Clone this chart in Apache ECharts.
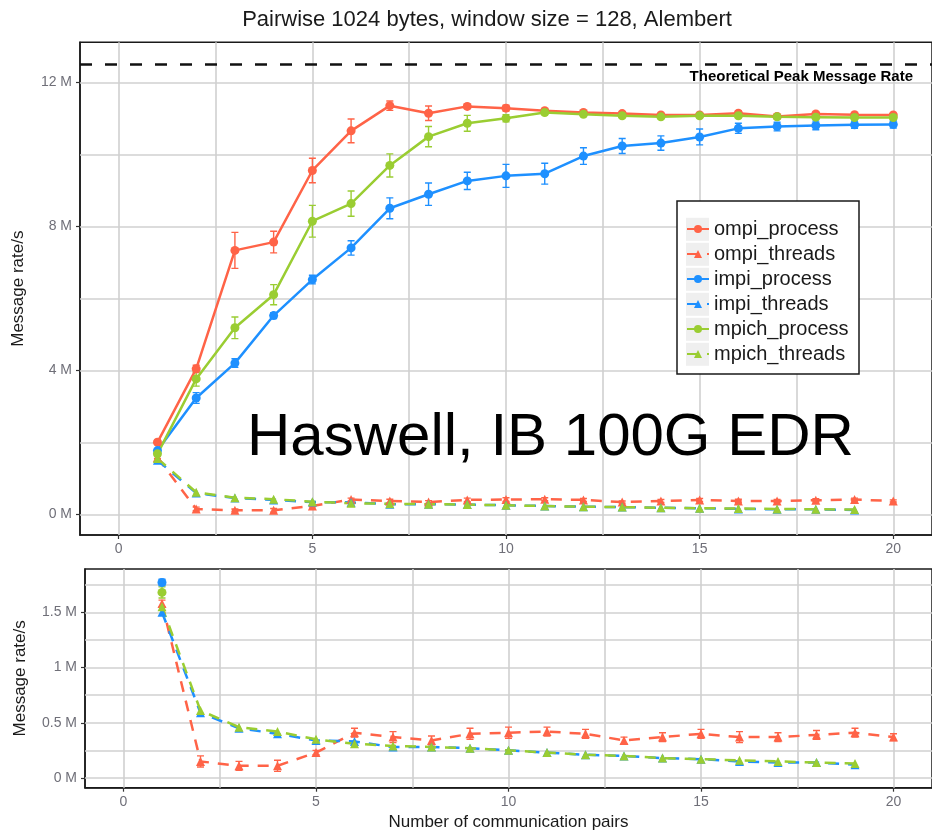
<!DOCTYPE html>
<html>
<head>
<meta charset="utf-8">
<title>Pairwise 1024 bytes, window size = 128, Alembert</title>
<script src="https://cdn.jsdelivr.net/npm/echarts@6/dist/echarts.min.js"></script>
<style>
	html, body { margin: 0; padding: 0; background: #fff; }
	#main { width: 932px; height: 835px; }
</style>
</head>
<body>
<div id="main"></div>
<script>
	// number of communication pairs
	var pairs = [1, 2, 3, 4, 5, 6, 7, 8, 9, 10, 11, 12, 13, 14, 15, 16, 17, 18, 19, 20];

	// message rate, millions of messages / s
	var ompiProcess  = [2.00, 4.04, 7.33, 7.56, 9.55, 10.65, 11.35, 11.14, 11.33, 11.28, 11.21, 11.16, 11.13, 11.09, 11.09, 11.14, 11.05, 11.12, 11.10, 11.09];
	var ompiThreads  = [1.58, 0.15, 0.11, 0.11, 0.23, 0.41, 0.37, 0.34, 0.40, 0.41, 0.42, 0.40, 0.34, 0.37, 0.40, 0.37, 0.37, 0.39, 0.41, 0.37];
	var impiProcess  = [1.77, 3.23, 4.20, 5.52, 6.52, 7.40, 8.50, 8.89, 9.26, 9.40, 9.46, 9.95, 10.23, 10.31, 10.48, 10.72, 10.77, 10.80, 10.82, 10.83];
	var impiThreads  = [1.50, 0.59, 0.45, 0.40, 0.34, 0.33, 0.28, 0.28, 0.27, 0.25, 0.23, 0.21, 0.20, 0.18, 0.17, 0.15, 0.14, 0.14, 0.12];
	var mpichProcess = [1.68, 3.76, 5.18, 6.10, 8.14, 8.63, 9.69, 10.49, 10.86, 11.00, 11.16, 11.11, 11.07, 11.04, 11.07, 11.07, 11.04, 11.03, 11.02, 11.02];
	var mpichThreads = [1.55, 0.61, 0.46, 0.42, 0.35, 0.31, 0.29, 0.28, 0.27, 0.25, 0.23, 0.21, 0.20, 0.18, 0.17, 0.16, 0.15, 0.14, 0.13];

	// error bar half heights, same unit
	var ompiProcessErr  = [0.05, 0.10, 0.50, 0.30, 0.34, 0.33, 0.13, 0.20, 0.06, 0.08, 0.05, 0.05, 0.05, 0.04, 0.05, 0.06, 0.04, 0.05, 0.04, 0.04];
	var ompiThreadsErr  = [0.03, 0.05, 0.04, 0.05, 0.02, 0.04, 0.05, 0.04, 0.05, 0.05, 0.04, 0.04, 0.03, 0.04, 0.04, 0.05, 0.04, 0.04, 0.04, 0.03];
	var impiProcessErr  = [0.03, 0.15, 0.12, 0.08, 0.12, 0.20, 0.29, 0.31, 0.24, 0.32, 0.29, 0.23, 0.21, 0.20, 0.22, 0.14, 0.12, 0.12, 0.10, 0.10];
	var mpichProcessErr = [0.05, 0.20, 0.30, 0.28, 0.44, 0.35, 0.32, 0.28, 0.22, 0.10, 0.06, 0.05, 0.05, 0.05, 0.05, 0.05, 0.05, 0.05, 0.04, 0.04];

	var peakRate = 12.5;

	// ticks and grid lines
	var xTicks = [0, 5, 10, 15, 20];
	var xGridLines = [0, 2.5, 5, 7.5, 10, 12.5, 15, 17.5, 20];
	var topYTicks = [0, 4, 8, 12];
	var topYGridLines = [0, 2, 4, 6, 8, 10, 12];
	var bottomYTicks = [0, 0.5, 1, 1.5];
	var bottomYGridLines = [0, 0.25, 0.5, 0.75, 1, 1.25, 1.5, 1.75];

	var X_RANGE = [-1, 21];
	var TOP_Y_RANGE = [-0.575, 13.11];
	var BOTTOM_Y_RANGE = [-0.088, 1.892];

	var RED = '#ff6347', BLUE = '#1e90ff', GREEN = '#9acd32';
	var FONT = '"Liberation Sans", Arial, sans-serif';
	var TICK_COLOR = '#6f6f78';

	var lines = [
		{ name: 'ompi_process',  values: ompiProcess,  err: ompiProcessErr,  color: RED,   threads: false },
		{ name: 'ompi_threads',  values: ompiThreads,  err: ompiThreadsErr,  color: RED,   threads: true },
		{ name: 'impi_process',  values: impiProcess,  err: impiProcessErr,  color: BLUE,  threads: false },
		{ name: 'impi_threads',  values: impiThreads,  err: null,            color: BLUE,  threads: true },
		{ name: 'mpich_process', values: mpichProcess, err: mpichProcessErr, color: GREEN, threads: false },
		{ name: 'mpich_threads', values: mpichThreads, err: null,            color: GREEN, threads: true }
	];

	/**
	 * 误差棒
	 */
	function renderErrorBar(params, api) {
		var x = api.value(0), y = api.value(1), e = api.value(2);
		var hi = api.coord([x, y + e]);
		var lo = api.coord([x, y - e]);
		var w = 3.5;
		var color = api.visual('color');
		function seg(x1, y1, x2, y2) {
			return { type: 'line', shape: { x1: x1, y1: y1, x2: x2, y2: y2 }, style: { stroke: color, lineWidth: 1.4 } };
		}
		return {
			type: 'group',
			children: [
				seg(hi[0], hi[1], lo[0], lo[1]),
				seg(hi[0] - w, hi[1], hi[0] + w, hi[1]),
				seg(lo[0] - w, lo[1], lo[0] + w, lo[1])
			]
		};
	}

	// values outside the panel's limits are dropped, as the original plot did
	function buildSeries(gridIdx, yMax) {
		var out = [];
		lines.forEach(function (l) {
			var data = l.values.map(function (v, i) {
				return [pairs[i], v <= yMax ? v : null];
			});
			out.push({
				name: l.name,
				type: 'line',
				xAxisIndex: gridIdx,
				yAxisIndex: gridIdx,
				data: data,
				symbol: l.threads ? 'triangle' : 'circle',
				symbolSize: 9,
				showSymbol: true,
				showAllSymbol: true,
				connectNulls: false,
				color: l.color,
				lineStyle: { width: 2.5, type: l.threads ? [11, 9] : 'solid' },
				z: 3
			});
			if (l.err) {
				var errData = [];
				l.values.forEach(function (v, i) {
					if (v + l.err[i] <= yMax) {
						errData.push([pairs[i], v, l.err[i]]);
					}
				});
				out.push({
					name: l.name + ' error',
					type: 'custom',
					xAxisIndex: gridIdx,
					yAxisIndex: gridIdx,
					renderItem: renderErrorBar,
					itemStyle: { color: l.color },
					encode: { x: 0, y: 1 },
					data: errData,
					clip: true,
					z: 3
				});
			}
		});
		return out;
	}

	function gridLineSeries(gridIdx, yLines) {
		var marks = [];
		yLines.forEach(function (v) { marks.push({ yAxis: v }); });
		xGridLines.forEach(function (v) { marks.push({ xAxis: v }); });
		return {
			name: 'grid lines ' + gridIdx,
			type: 'line',
			xAxisIndex: gridIdx,
			yAxisIndex: gridIdx,
			data: [],
			silent: true,
			markLine: {
				silent: true,
				symbol: 'none',
				label: { show: false },
				lineStyle: { color: '#d0d0d0', width: 1.6, type: 'solid' },
				emphasis: { disabled: true },
				z: 1,
				data: marks
			}
		};
	}

	function xAxis(gridIdx, withName) {
		var ax = {
			type: 'value',
			gridIndex: gridIdx,
			min: X_RANGE[0],
			max: X_RANGE[1],
			axisLine: { show: true, onZero: false, lineStyle: { color: '#1a1a1a', width: 1.5 } },
			axisTick: { show: true, customValues: xTicks, length: 4, lineStyle: { color: '#333', width: 1.2 } },
			axisLabel: { customValues: xTicks, margin: 7, fontSize: 14, color: TICK_COLOR, fontFamily: FONT },
			splitLine: { show: false }
		};
		if (withName) {
			ax.name = 'Number of communication pairs';
			ax.nameLocation = 'middle';
			ax.nameGap = 26;
			ax.nameTextStyle = { fontSize: 17, color: '#1a1a1a', fontFamily: FONT };
		}
		return ax;
	}

	function yAxis(gridIdx, range, ticks, nameGap) {
		return {
			type: 'value',
			gridIndex: gridIdx,
			min: range[0],
			max: range[1],
			name: 'Message rate/s',
			nameLocation: 'middle',
			nameGap: nameGap,
			nameTextStyle: { fontSize: 17, color: '#1a1a1a', fontFamily: FONT },
			axisLine: { show: true, onZero: false, lineStyle: { color: '#1a1a1a', width: 1.5 } },
			axisTick: { show: true, customValues: ticks, length: 4, lineStyle: { color: '#333', width: 1.2 } },
			axisLabel: {
				customValues: ticks, margin: 8, fontSize: 14, color: TICK_COLOR, fontFamily: FONT,
				formatter: function (v) { return v + ' M'; }
			},
			splitLine: { show: false }
		};
	}

	// grey squares behind the legend keys
	var legendKeys = lines.map(function (l, i) {
		return {
			type: 'rect',
			shape: { x: 686, y: 229.3 + i * 25 - 11.5, width: 23, height: 23 },
			style: { fill: '#efefef' },
			z: 5
		};
	});

	var chart = echarts.init(document.getElementById('main'));
	chart.setOption({
		animation: false,
		textStyle: { fontFamily: FONT },
		title: {
			text: 'Pairwise 1024 bytes, window size = 128, Alembert',
			left: 482,
			textAlign: 'center',
			top: 4,
			textStyle: { fontSize: 22, fontWeight: 'normal', color: '#1a1a1a', fontFamily: FONT }
		},
		grid: [
			{ left: 80, top: 42.3, width: 855, height: 492.7, show: true, borderColor: '#1a1a1a', borderWidth: 1.5, backgroundColor: '#fff' },
			{ left: 85, top: 569, width: 849, height: 218.7, show: true, borderColor: '#1a1a1a', borderWidth: 1.5, backgroundColor: '#fff' }
		],
		xAxis: [xAxis(0, false), xAxis(1, true)],
		yAxis: [yAxis(0, TOP_Y_RANGE, topYTicks, 53), yAxis(1, BOTTOM_Y_RANGE, bottomYTicks, 56)],
		legend: {
			orient: 'vertical',
			left: 677,
			top: 201,
			padding: [18, 10, 10, 9],
			itemWidth: 22,
			itemHeight: 10,
			itemGap: 5,
			z: 6,
			data: lines.map(function (l) { return l.name; }),
			textStyle: { fontSize: 20, lineHeight: 20, color: '#1a1a1a', fontFamily: FONT }
		},
		graphic: [
			{
				type: 'rect',
				shape: { x: 677, y: 201, width: 182, height: 173 },
				style: { fill: '#fff', stroke: '#1a1a1a', lineWidth: 1.5 },
				z: 4
			}
		].concat(legendKeys).concat([
			{
				type: 'text',
				x: 913,
				y: 77,
				style: { text: 'Theoretical Peak Message Rate', font: 'bold 15px ' + FONT, fill: '#000', textAlign: 'right', textVerticalAlign: 'middle' },
				z: 6
			},
			{
				type: 'text',
				x: 247,
				y: 438,
				style: { text: 'Haswell, IB 100G EDR', font: '60px ' + FONT, fill: '#000', textAlign: 'left', textVerticalAlign: 'middle' },
				z: 6
			}
		]),
		series: [
			gridLineSeries(0, topYGridLines),
			gridLineSeries(1, bottomYGridLines),
			{
				name: 'theoretical peak',
				type: 'line',
				xAxisIndex: 0,
				yAxisIndex: 0,
				data: [],
				silent: true,
				markLine: {
					silent: true,
					symbol: 'none',
					label: { show: false },
					lineStyle: { color: '#111', width: 2.7, type: [12, 13] },
					z: 2,
					data: [{ yAxis: peakRate }]
				}
			}
		].concat(buildSeries(0, TOP_Y_RANGE[1])).concat(buildSeries(1, BOTTOM_Y_RANGE[1]))
	});
</script>
</body>
</html>
